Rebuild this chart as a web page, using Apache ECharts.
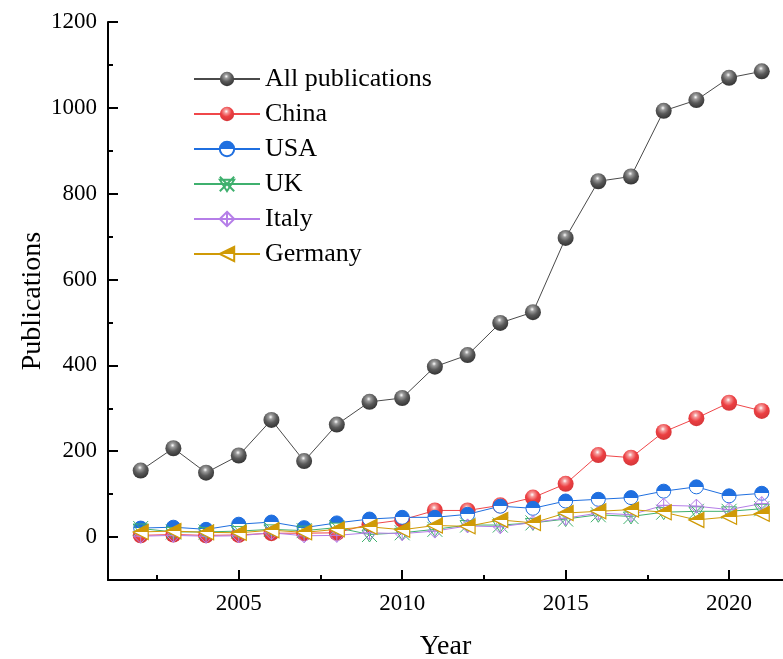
<!DOCTYPE html>
<html>
<head>
<meta charset="utf-8">
<script src="https://cdn.jsdelivr.net/npm/echarts@6/dist/echarts.min.js"></script>
<style>
  html, body { margin: 0; padding: 0; background: #fff; }
  #chart { width: 783px; height: 659px; }
</style>
</head>
<body>
<div id="chart"></div>
<script>
// data
var years = [2002, 2003, 2004, 2005, 2006, 2007, 2008, 2009, 2010, 2011,
             2012, 2013, 2014, 2015, 2016, 2017, 2018, 2019, 2020, 2021];
var allPubs = [155, 207, 150, 190, 273, 177, 262, 315, 324, 397,
               424, 499, 524, 697, 829, 840, 993, 1018, 1070, 1085];
var china   = [4, 6, 4, 5, 9, 9, 10, 30, 40, 62, 62, 74, 92, 124, 191, 185, 245, 277, 313, 294];
var usa     = [21, 23, 18, 30, 35, 22, 33, 42, 46, 46, 53, 72, 67, 84, 88, 92, 107, 117, 96, 102];
var uk      = [20, 12, 12, 14, 18, 15, 22, 6, 10, 18, 28, 28, 33, 42, 52, 48, 58, 60, 60, 66];
var italy   = [2, 4, 2, 3, 10, 3, 4, 10, 8, 14, 26, 24, 34, 44, 56, 52, 74, 72, 64, 78];
var germany = [12, 14, 11, 10, 16, 11, 18, 24, 17, 27, 25, 40, 33, 56, 60, 64, 58, 40, 47, 54];

var xTickLabels = [2005, 2010, 2015, 2020];
var xMinorTicks = [2002.5, 2007.5, 2012.5, 2017.5];
var yTickLabels = [0, 200, 400, 600, 800, 1000, 1200];
var yMinorTicks = [100, 300, 500, 700, 900, 1100];

var FONT = "'Times New Roman', 'Liberation Serif', serif";

function pairs(vals) {
  return vals.map(function (v, i) { return [years[i], v]; });
}

// shaded ball for the sphere markers
function ball(hi, mid, dark) {
  return {
    type: 'radial', x: 0.45, y: 0.32, r: 0.62,
    colorStops: [
      { offset: 0, color: '#ffffff' },
      { offset: 0.22, color: hi },
      { offset: 0.6, color: mid },
      { offset: 1, color: dark }
    ]
  };
}
// top half filled, bottom half white
function halfFill(c) {
  return {
    type: 'linear', x: 0, y: 0, x2: 0, y2: 1,
    colorStops: [
      { offset: 0, color: c }, { offset: 0.5, color: c },
      { offset: 0.5, color: '#ffffff' }, { offset: 1, color: '#ffffff' }
    ]
  };
}

var chart = echarts.init(document.getElementById('chart'));

function lineSeries(name, vals, color, symbol, size, itemStyle) {
  return {
    name: name,
    type: 'line',
    data: pairs(vals),
    symbol: symbol,
    symbolSize: size,
    showAllSymbol: true,
    lineStyle: { color: color, width: 1 },
    itemStyle: itemStyle,
    emphasis: { disabled: true },
    animation: false
  };
}

var plain = function (v) { return String(v); };
var axisTxt = { fontFamily: FONT, fontSize: 23, color: '#000', formatter: plain };

chart.setOption({
  backgroundColor: '#fff',
  grid: { left: 108, right: 0, top: 22, bottom: 79, outerBoundsMode: 'none', containLabel: false },
  legend: {
    orient: 'vertical',
    left: 188,
    top: 61,
    itemWidth: 66,
    itemHeight: 18,
    itemGap: 9,
    textStyle: { fontFamily: FONT, fontSize: 26, color: '#000', lineHeight: 26 },
    data: ['All publications', 'China', 'USA', 'UK', 'Italy', 'Germany']
  },
  xAxis: [{
    type: 'value', min: 2001, max: 2021.65,
    name: 'Year', nameLocation: 'middle', nameGap: 53, nameMoveOverlap: false,
    nameTextStyle: { fontFamily: FONT, fontSize: 28, color: '#000' },
    splitLine: { show: false },
    axisLine: { onZero: false, lineStyle: { color: '#000', width: 2 } },
    axisTick: { inside: true, length: 10, customValues: xTickLabels, lineStyle: { color: '#000', width: 2 } },
    axisLabel: Object.assign({ margin: 12, customValues: xTickLabels }, axisTxt)
  }, {
    type: 'value', min: 2001, max: 2021.65, position: 'bottom',
    splitLine: { show: false },
    axisLine: { show: false, onZero: false },
    axisTick: { inside: true, length: 5, customValues: xMinorTicks, lineStyle: { color: '#000', width: 2 } },
    axisLabel: { show: false }
  }],
  yAxis: [{
    type: 'value', min: -100, max: 1200,
    name: 'Publications', nameLocation: 'middle', nameGap: 61, nameMoveOverlap: false,
    nameTextStyle: { fontFamily: FONT, fontSize: 28, color: '#000' },
    splitLine: { show: false },
    axisLine: { show: true, onZero: false, lineStyle: { color: '#000', width: 2 } },
    axisTick: { show: true, inside: true, length: 10, customValues: yTickLabels, lineStyle: { color: '#000', width: 2 } },
    axisLabel: Object.assign({ margin: 11, customValues: yTickLabels }, axisTxt)
  }, {
    type: 'value', min: -100, max: 1200, position: 'left',
    splitLine: { show: false },
    axisLine: { show: false, onZero: false },
    axisTick: { show: true, inside: true, length: 5, customValues: yMinorTicks, lineStyle: { color: '#000', width: 2 } },
    axisLabel: { show: false }
  }],
  series: [
    lineSeries('All publications', allPubs, '#4a4a4a', 'circle', 16,
      { color: ball('#9c9c9c', '#5a5a5a', '#3a3a3a') }),
    lineSeries('China', china, '#f0474a', 'circle', 16,
      { color: ball('#f59a9a', '#ec3f42', '#d8383b') }),
    lineSeries('USA', usa, '#1f6fe0', 'circle', 14,
      { color: halfFill('#1f6fe0'), borderColor: '#1f6fe0', borderWidth: 1 }),
    lineSeries('UK', uk, '#3fb06e', 'path://M0,0 L10,10 M10,0 L0,10 M0,2 L10,2 L5,10 Z', 15,
      { color: 'rgba(255,255,255,0)', borderColor: '#3fb06e', borderWidth: 1 }),
    lineSeries('Italy', italy, '#b57ee8', 'path://M5,0 L10,5 L5,10 L0,5 Z M5,0 L5,10 M0,5 L10,5', 14,
      { color: 'rgba(255,255,255,0)', borderColor: '#b57ee8', borderWidth: 1 }),
    lineSeries('Germany', germany, '#d09a06', 'path://M0,5 L10,0 L10,10 Z', 15,
      { color: halfFill('#d09a06'), borderColor: '#d09a06', borderWidth: 1.2 })
  ]
});
</script>
</body>
</html>
